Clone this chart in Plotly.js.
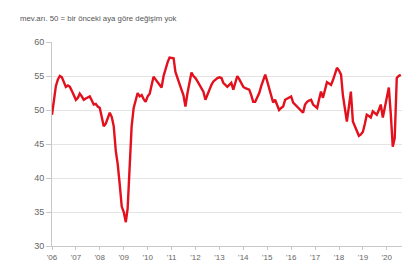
<!DOCTYPE html>
<html>
<head>
<meta charset="utf-8">
<script src="https://cdn.plot.ly/plotly-3.0.1.min.js"></script>
<style>html,body{margin:0;padding:0;background:#fff;}#chart{width:402px;height:262px;}</style>
</head>
<body>
<div id="chart"></div>
<script>
// Monthly index values, Jan 2006 onwards
var startYear = 2006;
var values = [
  49.3, 51.5, 53.5, 54.5, 55.0, 54.8, 54.0, 53.4, 53.6, 53.4, 52.8, 52.2, // 2006
  51.5, 51.8, 52.4, 52.0, 51.5, 51.7, 51.9, 52.0, 51.4, 50.8, 50.9, 50.5, // 2007
  50.3, 48.9, 47.6, 48.0, 48.9, 49.6, 49.0, 47.6, 44.0, 42.0, 39.0, 35.8, // 2008
  35.0, 33.5, 35.5, 42.7, 47.6, 50.3, 51.5, 52.5, 52.0, 52.2, 51.6, 51.2, // 2009
  52.0, 52.4, 53.6, 54.9, 54.5, 54.1, 53.6, 53.3, 55.0, 56.2, 57.0, 57.7, // 2010
  57.7, 57.6, 55.6, 54.6, 53.7, 53.0, 52.2, 50.5, 52.5, 54.0, 55.5, 55.0, // 2011
  54.7, 54.2, 53.7, 53.2, 52.7, 51.5, 52.3, 53.0, 53.7, 54.2, 54.5, 54.7, // 2012
  54.8, 54.7, 54.0, 53.7, 53.4, 53.7, 54.0, 53.0, 54.0, 55.0, 54.5, 54.0, // 2013
  53.4, 53.2, 53.1, 53.0, 52.2, 51.2, 51.2, 51.8, 52.5, 53.5, 54.4, 55.2, // 2014
  54.2, 53.0, 52.0, 51.1, 51.5, 50.8, 50.0, 50.3, 50.5, 51.5, 51.7, 51.8, // 2015
  52.0, 51.1, 50.8, 50.6, 50.3, 49.9, 49.6, 50.8, 51.2, 51.4, 51.5, 50.8, // 2016
  50.5, 50.3, 51.5, 52.7, 51.8, 53.0, 54.1, 53.9, 53.7, 54.4, 55.3, 56.2, // 2017
  55.8, 55.2, 52.2, 50.2, 48.3, 50.5, 52.7, 48.3, 47.5, 46.8, 46.2, 46.4, // 2018
  46.8, 48.0, 49.3, 49.1, 48.9, 49.8, 49.6, 49.3, 50.0, 50.8, 48.9, 50.5, // 2019
  52.0, 53.3, 49.5, 44.6, 45.9, 54.7, 55.0, 55.2                          // 2020
];
var tickDates = ['2006-01-01','2007-01-01','2008-01-01','2009-01-01','2010-01-01','2011-01-01','2012-01-01','2013-01-01','2014-01-01','2015-01-01','2016-01-01','2017-01-01','2018-01-01','2019-01-01','2020-01-01'];
var tickLabels = ["'06","'07","'08","'09","'10","'11","'12","'13","'14","'15","'16","'17","'18","'19","'20"];
var yTicks = [30, 35, 40, 45, 50, 55, 60];
var subtitle = 'mev.arı. 50 = bir önceki aya göre değişim yok';

var dates = values.map(function(v, i){
  var y = startYear + Math.floor(i / 12);
  var m = (i % 12) + 1;
  return y + '-' + (m < 10 ? '0' + m : m) + '-01';
});

var trace = {
  x: dates, y: values, type: 'scatter', mode: 'lines',
  line: {color: '#e3101e', width: 2.4, shape: 'linear'},
  hoverinfo: 'skip'
};

var layout = {
  width: 402, height: 262,
  margin: {l: 52, r: 0, t: 42, b: 16},
  paper_bgcolor: '#ffffff', plot_bgcolor: '#ffffff',
  showlegend: false,
  font: {family: 'Arial, Liberation Sans, sans-serif', color: '#666'},
  title: {
    text: subtitle, xref: 'container', yref: 'container',
    x: 20 / 402, xanchor: 'left', y: 1 - 18 / 262, yanchor: 'middle',
    font: {size: 7.8, color: '#555'}
  },
  xaxis: {
    type: 'date', range: ['2006-01-01', '2020-08-20'],
    tickvals: tickDates, ticktext: tickLabels,
    showgrid: false, zeroline: false,
    showline: true, linecolor: '#c8c8c8', linewidth: 1,
    ticks: 'outside', ticklen: 3, tickcolor: '#c8c8c8',
    tickfont: {size: 8, color: '#666'}
  },
  yaxis: {
    range: [30, 60], tickvals: yTicks, ticktext: yTicks.map(String),
    showgrid: true, gridcolor: '#e4e4e4', gridwidth: 1, zeroline: false,
    showline: true, linecolor: '#c8c8c8', linewidth: 1,
    ticks: 'outside', ticklen: 5, tickcolor: '#c8c8c8',
    tickfont: {size: 9, color: '#666'}
  }
};

Plotly.newPlot('chart', [trace], layout, {displayModeBar: false, staticPlot: true});
</script>
</body>
</html>
